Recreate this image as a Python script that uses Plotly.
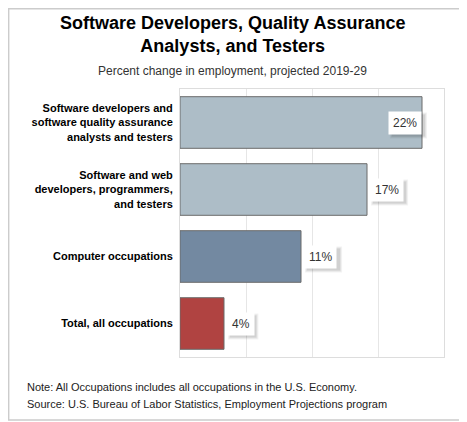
import plotly.graph_objects as go

categories = [
    "Software developers and<br>software quality assurance<br>analysts and testers",
    "Software and web<br>developers, programmers,<br>and testers",
    "Computer occupations",
    "Total, all occupations",
]
values = [22, 17, 11, 4]
colors = ["#adbdc7", "#adbdc7", "#7389a1", "#b04341"]

title = "<b>Software Developers, Quality Assurance<br>Analysts, and Testers</b>"
subtitle = "Percent change in employment, projected 2019-29"
notes = [
    "Note: All Occupations includes all occupations in the U.S. Economy.",
    "Source: U.S. Bureau of Labor Statistics, Employment Projections program",
]

FONT = "Liberation Sans, Arial, sans-serif"

fig = go.Figure(go.Bar(
    x=values,
    y=categories,
    orientation="h",
    marker=dict(color=colors, line=dict(color="#6b6b6b", width=1)),
    hoverinfo="skip",
))

# value labels in white boxes with a soft shadow (shadow drawn as pixel-sized shapes)
for cat, val in zip(categories, values):
    label = f"{val}%"
    inside = val > 20
    w = 6.7 * (len(label) - 1) + 10.7 + 9
    h = 22
    left = -w if inside else 3
    for grow, op in [(3, 0.05), (2, 0.06), (1, 0.08)]:
        fig.add_shape(
            type="rect", xref="x", yref="y", xsizemode="pixel", ysizemode="pixel",
            xanchor=val, yanchor=cat,
            x0=left + 2 - grow + 2, x1=left + w + 2 + grow,
            y0=-h / 2 - 2 - grow, y1=h / 2 - 2 + grow - 2,
            fillcolor=f"rgba(0,0,0,{op})", line=dict(width=0), layer="above",
        )
    fig.add_annotation(
        x=val, y=cat, text=label, showarrow=False,
        xanchor="right" if inside else "left", xshift=0 if inside else 3,
        font=dict(family=FONT, size=12, color="#333333"),
        bgcolor="white", borderpad=4,
    )

fig.add_annotation(
    text=title, xref="paper", yref="paper", x=0.197, y=1.205,
    xanchor="center", yanchor="middle", showarrow=False,
    font=dict(family=FONT, size=18, color="black"),
)
fig.add_annotation(
    text=subtitle, xref="paper", yref="paper", x=0.197, y=1.067,
    xanchor="center", yanchor="middle", showarrow=False,
    font=dict(family=FONT, size=12, color="#333333"),
)
for line, yy in zip(notes, [-0.112, -0.175]):
    fig.add_annotation(
        text=line, xref="paper", yref="paper", x=-0.587, y=yy,
        xanchor="left", yanchor="middle", showarrow=False,
        font=dict(family=FONT, size=11, color="#222222"),
    )

# outer frame
fig.add_shape(type="rect", xref="paper", yref="paper",
              x0=-0.649, x1=1.06, y0=-0.235, y1=1.299,
              line=dict(color="#cccccc", width=1.5))

# page body adds an 8px offset, so the figure is sized to what stays visible
fig.update_layout(
    width=459, height=414,
    margin=dict(l=172, r=23, t=81, b=65),
    paper_bgcolor="white", plot_bgcolor="white",
    bargap=0.23,
    showlegend=False,
)
fig.update_xaxes(
    range=[0, 24], dtick=6, showticklabels=False,
    showgrid=True, gridcolor="#e6e6e6", gridwidth=1,
    showline=True, linecolor="#dddddd", mirror=True, zeroline=False,
)
fig.update_yaxes(
    autorange="reversed", showgrid=False,
    showline=True, linecolor="#dddddd", mirror=True,
    ticks="", ticklabelstandoff=4,
    tickfont=dict(family=FONT, size=11, color="black", weight="bold"),
)

fig.write_html("out.html")
